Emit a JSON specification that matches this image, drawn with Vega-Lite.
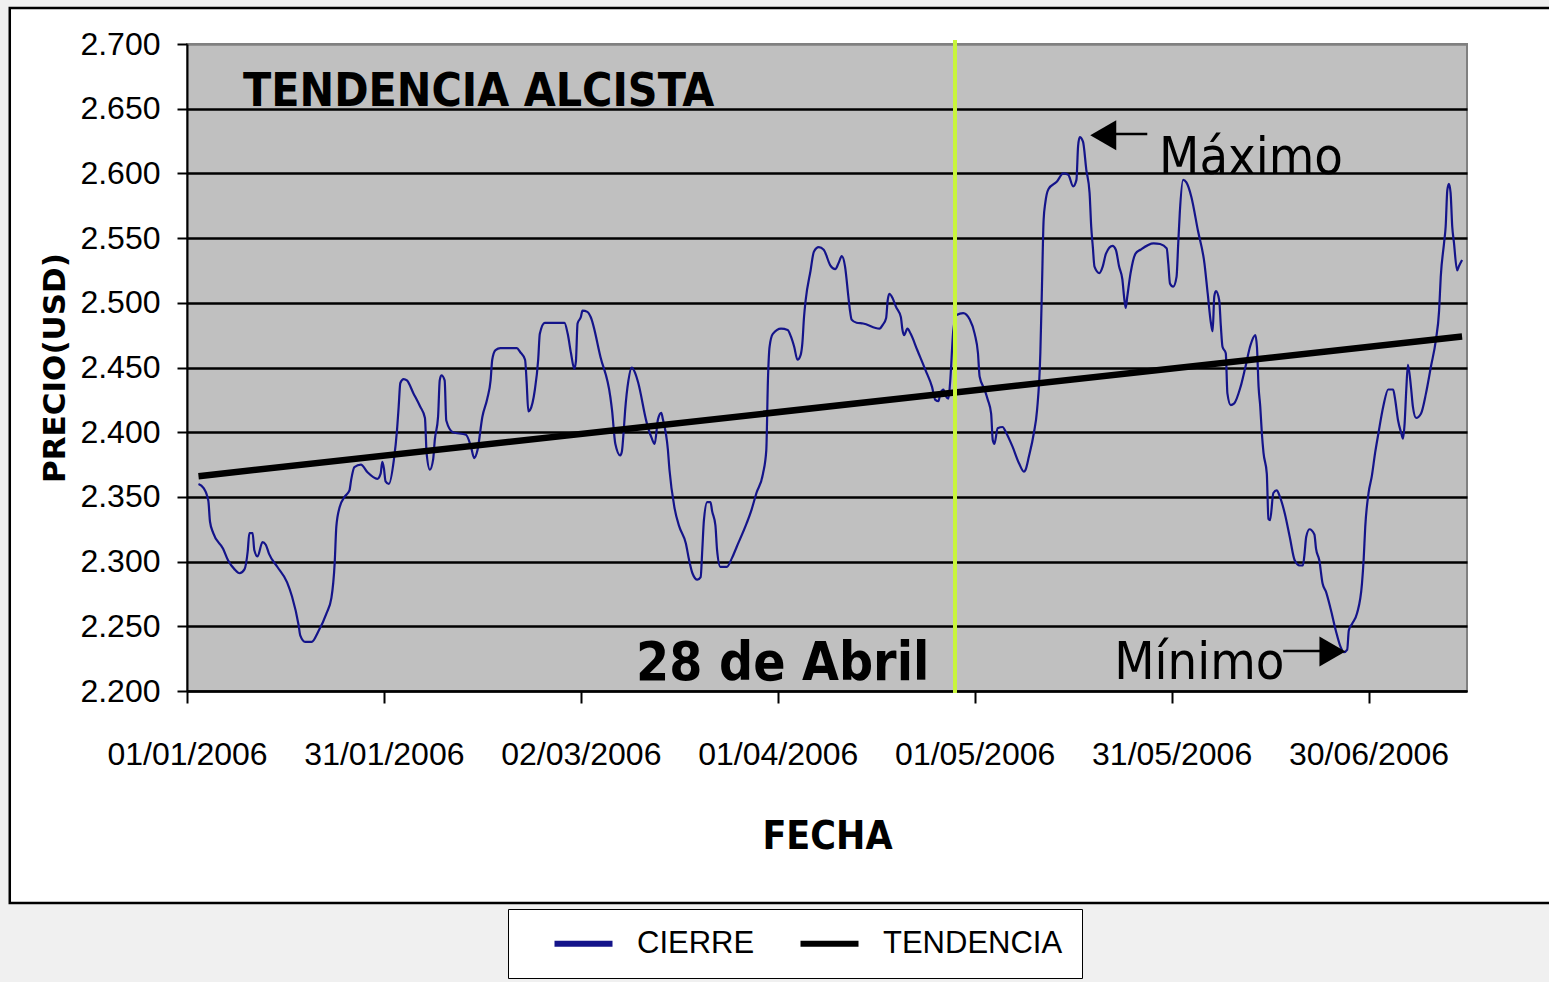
{
  "$schema": "https://vega.github.io/schema/vega-lite/v6.json",
  "width": 1280,
  "height": 647,
  "autosize": "none",
  "padding": {"left": 187, "top": 44, "right": 82, "bottom": 291},
  "background": "white",
  "config": {
    "view": {"fill": "#c0c0c0", "stroke": "#808080", "strokeWidth": 2},
    "axis": {
      "domainColor": "black", "domainWidth": 2,
      "tickColor": "black", "tickWidth": 2,
      "labelColor": "black", "titleColor": "black",
      "labelFont": "Liberation Sans", "labelFontSize": 32, "labelLimit": 400
    },
    "legend": {
      "orient": "none", "legendX": 321, "legendY": 865,
      "direction": "horizontal", "padding": 19,
      "fillColor": "white", "strokeColor": "black",
      "symbolType": "M-2.9,0H2.9", "symbolSize": 400, "symbolStrokeWidth": 6,
      "symbolOffset": 41, "labelOffset": 38, "columnPadding": 18,
      "labelFont": "Liberation Sans", "labelFontSize": 31, "labelColor": "black", "labelLimit": 400
    }
  },
  "datasets": {
    "cierre": [
      {"fecha":"2006-01-02T18:00Z","precio":2.360},{"fecha":"2006-01-03T12:00Z","precio":2.357},{"fecha":"2006-01-04T06:00Z","precio":2.347},{"fecha":"2006-01-04T12:00Z","precio":2.331},{"fecha":"2006-01-05T00:00Z","precio":2.322},{"fecha":"2006-01-06T12:00Z","precio":2.310},{"fecha":"2006-01-07T06:00Z","precio":2.301},{"fecha":"2006-01-08T06:00Z","precio":2.294},{"fecha":"2006-01-09T00:00Z","precio":2.291},{"fecha":"2006-01-09T18:00Z","precio":2.294},{"fecha":"2006-01-10T06:00Z","precio":2.308},{"fecha":"2006-01-10T12:00Z","precio":2.322},{"fecha":"2006-01-11T00:00Z","precio":2.322},{"fecha":"2006-01-11T06:00Z","precio":2.309},{"fecha":"2006-01-11T18:00Z","precio":2.304},{"fecha":"2006-01-12T12:00Z","precio":2.315},{"fecha":"2006-01-13T00:00Z","precio":2.313},{"fecha":"2006-01-13T12:00Z","precio":2.306},{"fecha":"2006-01-14T18:00Z","precio":2.296},{"fecha":"2006-01-16T06:00Z","precio":2.284},{"fecha":"2006-01-17T00:00Z","precio":2.273},{"fecha":"2006-01-18T00:00Z","precio":2.251},{"fecha":"2006-01-18T06:00Z","precio":2.243},{"fecha":"2006-01-19T00:00Z","precio":2.238},{"fecha":"2006-01-20T00:00Z","precio":2.238},{"fecha":"2006-01-21T00:00Z","precio":2.246},{"fecha":"2006-01-22T06:00Z","precio":2.260},{"fecha":"2006-01-23T00:00Z","precio":2.272},{"fecha":"2006-01-23T12:00Z","precio":2.299},{"fecha":"2006-01-23T18:00Z","precio":2.327},{"fecha":"2006-01-24T06:00Z","precio":2.342},{"fecha":"2006-01-25T00:00Z","precio":2.350},{"fecha":"2006-01-25T18:00Z","precio":2.355},{"fecha":"2006-01-26T00:00Z","precio":2.363},{"fecha":"2006-01-26T12:00Z","precio":2.373},{"fecha":"2006-01-27T12:00Z","precio":2.375},{"fecha":"2006-01-28T12:00Z","precio":2.369},{"fecha":"2006-01-30T00:00Z","precio":2.364},{"fecha":"2006-01-30T12:00Z","precio":2.368},{"fecha":"2006-01-30T18:00Z","precio":2.377},{"fecha":"2006-01-31T00:00Z","precio":2.372},{"fecha":"2006-01-31T06:00Z","precio":2.362},{"fecha":"2006-01-31T18:00Z","precio":2.360},
      {"fecha":"2006-02-01T12:00Z","precio":2.378},{"fecha":"2006-02-02T00:00Z","precio":2.402},{"fecha":"2006-02-02T06:00Z","precio":2.420},{"fecha":"2006-02-02T12:00Z","precio":2.438},{"fecha":"2006-02-03T00:00Z","precio":2.441},{"fecha":"2006-02-03T12:00Z","precio":2.440},{"fecha":"2006-02-04T12:00Z","precio":2.430},{"fecha":"2006-02-05T12:00Z","precio":2.420},{"fecha":"2006-02-06T06:00Z","precio":2.411},{"fecha":"2006-02-06T12:00Z","precio":2.384},{"fecha":"2006-02-07T00:00Z","precio":2.371},{"fecha":"2006-02-07T12:00Z","precio":2.379},{"fecha":"2006-02-07T18:00Z","precio":2.394},{"fecha":"2006-02-08T06:00Z","precio":2.412},{"fecha":"2006-02-08T12:00Z","precio":2.440},{"fecha":"2006-02-08T18:00Z","precio":2.444},{"fecha":"2006-02-09T06:00Z","precio":2.440},{"fecha":"2006-02-09T12:00Z","precio":2.409},{"fecha":"2006-02-10T12:00Z","precio":2.400},{"fecha":"2006-02-12T12:00Z","precio":2.398},{"fecha":"2006-02-13T06:00Z","precio":2.389},{"fecha":"2006-02-13T18:00Z","precio":2.380},{"fecha":"2006-02-14T06:00Z","precio":2.386},{"fecha":"2006-02-15T00:00Z","precio":2.412},{"fecha":"2006-02-15T18:00Z","precio":2.426},{"fecha":"2006-02-16T06:00Z","precio":2.440},{"fecha":"2006-02-16T12:00Z","precio":2.456},{"fecha":"2006-02-17T00:00Z","precio":2.4635},{"fecha":"2006-02-17T18:00Z","precio":2.465},{"fecha":"2006-02-20T06:00Z","precio":2.465},{"fecha":"2006-02-20T18:00Z","precio":2.462},{"fecha":"2006-02-21T12:00Z","precio":2.456},{"fecha":"2006-02-21T18:00Z","precio":2.438},{"fecha":"2006-02-22T00:00Z","precio":2.416},{"fecha":"2006-02-22T06:00Z","precio":2.417},{"fecha":"2006-02-23T00:00Z","precio":2.433},{"fecha":"2006-02-23T12:00Z","precio":2.456},{"fecha":"2006-02-23T18:00Z","precio":2.476},{"fecha":"2006-02-24T12:00Z","precio":2.4845},{"fecha":"2006-02-27T12:00Z","precio":2.4845},{"fecha":"2006-02-28T00:00Z","precio":2.476},{"fecha":"2006-02-28T12:00Z","precio":2.461},
      {"fecha":"2006-03-01T00:00Z","precio":2.449},{"fecha":"2006-03-01T06:00Z","precio":2.455},{"fecha":"2006-03-01T12:00Z","precio":2.484},{"fecha":"2006-03-02T00:00Z","precio":2.489},{"fecha":"2006-03-02T06:00Z","precio":2.494},{"fecha":"2006-03-03T00:00Z","precio":2.493},{"fecha":"2006-03-03T12:00Z","precio":2.489},{"fecha":"2006-03-05T00:00Z","precio":2.458},{"fecha":"2006-03-06T12:00Z","precio":2.427},{"fecha":"2006-03-06T18:00Z","precio":2.417},{"fecha":"2006-03-07T06:00Z","precio":2.391},{"fecha":"2006-03-08T00:00Z","precio":2.382},{"fecha":"2006-03-08T06:00Z","precio":2.385},{"fecha":"2006-03-08T12:00Z","precio":2.399},{"fecha":"2006-03-08T18:00Z","precio":2.417},{"fecha":"2006-03-09T06:00Z","precio":2.440},{"fecha":"2006-03-09T18:00Z","precio":2.450},{"fecha":"2006-03-10T06:00Z","precio":2.446},{"fecha":"2006-03-10T18:00Z","precio":2.438},{"fecha":"2006-03-12T00:00Z","precio":2.408},{"fecha":"2006-03-12T18:00Z","precio":2.396},{"fecha":"2006-03-13T06:00Z","precio":2.391},{"fecha":"2006-03-13T18:00Z","precio":2.410},{"fecha":"2006-03-14T06:00Z","precio":2.415},{"fecha":"2006-03-14T12:00Z","precio":2.410},{"fecha":"2006-03-15T06:00Z","precio":2.387},{"fecha":"2006-03-15T12:00Z","precio":2.371},{"fecha":"2006-03-16T06:00Z","precio":2.342},{"fecha":"2006-03-17T00:00Z","precio":2.327},{"fecha":"2006-03-18T00:00Z","precio":2.314},{"fecha":"2006-03-18T12:00Z","precio":2.301},{"fecha":"2006-03-19T00:00Z","precio":2.291},{"fecha":"2006-03-19T18:00Z","precio":2.286},{"fecha":"2006-03-20T06:00Z","precio":2.288},{"fecha":"2006-03-20T12:00Z","precio":2.309},{"fecha":"2006-03-20T18:00Z","precio":2.332},{"fecha":"2006-03-21T06:00Z","precio":2.346},{"fecha":"2006-03-21T18:00Z","precio":2.346},{"fecha":"2006-03-22T00:00Z","precio":2.339},{"fecha":"2006-03-22T12:00Z","precio":2.328},{"fecha":"2006-03-22T18:00Z","precio":2.309},{"fecha":"2006-03-23T06:00Z","precio":2.296},{"fecha":"2006-03-24T06:00Z","precio":2.296},{"fecha":"2006-03-25T00:00Z","precio":2.3025},{"fecha":"2006-03-25T18:00Z","precio":2.3115},{"fecha":"2006-03-27T06:00Z","precio":2.3295},{"fecha":"2006-03-28T00:00Z","precio":2.340},{"fecha":"2006-03-28T18:00Z","precio":2.353},{"fecha":"2006-03-29T18:00Z","precio":2.368},{"fecha":"2006-03-30T06:00Z","precio":2.386},{"fecha":"2006-03-30T12:00Z","precio":2.440},{"fecha":"2006-03-30T18:00Z","precio":2.466},{"fecha":"2006-03-31T06:00Z","precio":2.476},
      {"fecha":"2006-04-01T12:00Z","precio":2.480},{"fecha":"2006-04-02T12:00Z","precio":2.479},{"fecha":"2006-04-03T00:00Z","precio":2.474},{"fecha":"2006-04-03T12:00Z","precio":2.466},{"fecha":"2006-04-04T00:00Z","precio":2.456},{"fecha":"2006-04-04T12:00Z","precio":2.460},{"fecha":"2006-04-04T18:00Z","precio":2.469},{"fecha":"2006-04-05T00:00Z","precio":2.489},{"fecha":"2006-04-05T06:00Z","precio":2.502},{"fecha":"2006-04-06T00:00Z","precio":2.525},{"fecha":"2006-04-06T12:00Z","precio":2.5395},{"fecha":"2006-04-07T06:00Z","precio":2.543},{"fecha":"2006-04-08T00:00Z","precio":2.541},{"fecha":"2006-04-09T00:00Z","precio":2.529},{"fecha":"2006-04-09T18:00Z","precio":2.526},{"fecha":"2006-04-10T06:00Z","precio":2.5305},{"fecha":"2006-04-10T18:00Z","precio":2.536},{"fecha":"2006-04-11T06:00Z","precio":2.528},{"fecha":"2006-04-11T18:00Z","precio":2.505},{"fecha":"2006-04-12T00:00Z","precio":2.494},{"fecha":"2006-04-12T06:00Z","precio":2.487},{"fecha":"2006-04-13T00:00Z","precio":2.4846},{"fecha":"2006-04-14T00:00Z","precio":2.484},{"fecha":"2006-04-16T12:00Z","precio":2.480},{"fecha":"2006-04-17T00:00Z","precio":2.483},{"fecha":"2006-04-17T12:00Z","precio":2.488},{"fecha":"2006-04-17T18:00Z","precio":2.502},{"fecha":"2006-04-18T00:00Z","precio":2.507},{"fecha":"2006-04-18T12:00Z","precio":2.5035},{"fecha":"2006-04-19T00:00Z","precio":2.497},{"fecha":"2006-04-19T18:00Z","precio":2.489},{"fecha":"2006-04-20T00:00Z","precio":2.479},{"fecha":"2006-04-20T06:00Z","precio":2.475},{"fecha":"2006-04-20T18:00Z","precio":2.480},{"fecha":"2006-04-21T06:00Z","precio":2.476},{"fecha":"2006-04-22T06:00Z","precio":2.4635},{"fecha":"2006-04-23T12:00Z","precio":2.448},{"fecha":"2006-04-24T12:00Z","precio":2.435},{"fecha":"2006-04-25T00:00Z","precio":2.425},{"fecha":"2006-04-25T12:00Z","precio":2.424},{"fecha":"2006-04-25T18:00Z","precio":2.430},{"fecha":"2006-04-26T06:00Z","precio":2.433},{"fecha":"2006-04-26T12:00Z","precio":2.429},{"fecha":"2006-04-27T00:00Z","precio":2.426},{"fecha":"2006-04-27T06:00Z","precio":2.438},{"fecha":"2006-04-27T18:00Z","precio":2.479},{"fecha":"2006-04-28T06:00Z","precio":2.4906},{"fecha":"2006-04-29T06:00Z","precio":2.492},{"fecha":"2006-04-30T06:00Z","precio":2.487},
      {"fecha":"2006-05-01T00:00Z","precio":2.476},{"fecha":"2006-05-01T12:00Z","precio":2.461},{"fecha":"2006-05-01T18:00Z","precio":2.443},{"fecha":"2006-05-02T12:00Z","precio":2.433},{"fecha":"2006-05-03T00:00Z","precio":2.425},{"fecha":"2006-05-03T12:00Z","precio":2.4145},{"fecha":"2006-05-03T18:00Z","precio":2.394},{"fecha":"2006-05-04T00:00Z","precio":2.391},{"fecha":"2006-05-04T12:00Z","precio":2.403},{"fecha":"2006-05-05T06:00Z","precio":2.404},{"fecha":"2006-05-05T18:00Z","precio":2.400},{"fecha":"2006-05-06T18:00Z","precio":2.389},{"fecha":"2006-05-07T18:00Z","precio":2.376},{"fecha":"2006-05-08T12:00Z","precio":2.3695},{"fecha":"2006-05-08T18:00Z","precio":2.371},{"fecha":"2006-05-09T06:00Z","precio":2.381},{"fecha":"2006-05-10T00:00Z","precio":2.399},{"fecha":"2006-05-10T12:00Z","precio":2.417},{"fecha":"2006-05-11T00:00Z","precio":2.461},{"fecha":"2006-05-11T06:00Z","precio":2.5125},{"fecha":"2006-05-11T12:00Z","precio":2.564},{"fecha":"2006-05-11T18:00Z","precio":2.577},{"fecha":"2006-05-12T06:00Z","precio":2.588},{"fecha":"2006-05-13T12:00Z","precio":2.5935},{"fecha":"2006-05-14T12:00Z","precio":2.600},{"fecha":"2006-05-15T06:00Z","precio":2.599},{"fecha":"2006-05-16T00:00Z","precio":2.590},{"fecha":"2006-05-16T12:00Z","precio":2.595},{"fecha":"2006-05-16T18:00Z","precio":2.621},{"fecha":"2006-05-17T00:00Z","precio":2.628},{"fecha":"2006-05-17T12:00Z","precio":2.6245},{"fecha":"2006-05-18T00:00Z","precio":2.603},{"fecha":"2006-05-18T12:00Z","precio":2.585},{"fecha":"2006-05-18T18:00Z","precio":2.559},{"fecha":"2006-05-19T00:00Z","precio":2.543},{"fecha":"2006-05-19T06:00Z","precio":2.528},{"fecha":"2006-05-20T00:00Z","precio":2.523},{"fecha":"2006-05-20T12:00Z","precio":2.528},{"fecha":"2006-05-21T00:00Z","precio":2.538},{"fecha":"2006-05-22T00:00Z","precio":2.544},{"fecha":"2006-05-22T12:00Z","precio":2.541},{"fecha":"2006-05-23T00:00Z","precio":2.528},{"fecha":"2006-05-23T12:00Z","precio":2.518},{"fecha":"2006-05-23T18:00Z","precio":2.505},{"fecha":"2006-05-24T00:00Z","precio":2.496},{"fecha":"2006-05-24T06:00Z","precio":2.505},{"fecha":"2006-05-24T18:00Z","precio":2.523},{"fecha":"2006-05-25T12:00Z","precio":2.538},{"fecha":"2006-05-26T06:00Z","precio":2.541},{"fecha":"2006-05-28T06:00Z","precio":2.546},{"fecha":"2006-05-29T06:00Z","precio":2.5454},{"fecha":"2006-05-30T06:00Z","precio":2.542},{"fecha":"2006-05-30T12:00Z","precio":2.530},{"fecha":"2006-05-30T18:00Z","precio":2.515},{"fecha":"2006-05-31T06:00Z","precio":2.5125},{"fecha":"2006-05-31T18:00Z","precio":2.520},
      {"fecha":"2006-06-01T00:00Z","precio":2.545},{"fecha":"2006-06-01T06:00Z","precio":2.570},{"fecha":"2006-06-01T18:00Z","precio":2.595},{"fecha":"2006-06-02T06:00Z","precio":2.593},{"fecha":"2006-06-03T00:00Z","precio":2.582},{"fecha":"2006-06-04T00:00Z","precio":2.556},{"fecha":"2006-06-05T00:00Z","precio":2.5305},{"fecha":"2006-06-05T12:00Z","precio":2.507},{"fecha":"2006-06-06T00:00Z","precio":2.484},{"fecha":"2006-06-06T06:00Z","precio":2.478},{"fecha":"2006-06-06T12:00Z","precio":2.505},{"fecha":"2006-06-06T18:00Z","precio":2.509},{"fecha":"2006-06-07T06:00Z","precio":2.502},{"fecha":"2006-06-07T12:00Z","precio":2.482},{"fecha":"2006-06-07T18:00Z","precio":2.466},{"fecha":"2006-06-08T06:00Z","precio":2.461},{"fecha":"2006-06-08T12:00Z","precio":2.430},{"fecha":"2006-06-09T00:00Z","precio":2.421},{"fecha":"2006-06-09T12:00Z","precio":2.422},{"fecha":"2006-06-10T12:00Z","precio":2.435},{"fecha":"2006-06-11T06:00Z","precio":2.4506},{"fecha":"2006-06-12T00:00Z","precio":2.467},{"fecha":"2006-06-12T18:00Z","precio":2.475},{"fecha":"2006-06-13T00:00Z","precio":2.466},{"fecha":"2006-06-13T06:00Z","precio":2.435},{"fecha":"2006-06-13T12:00Z","precio":2.420},{"fecha":"2006-06-13T18:00Z","precio":2.399},{"fecha":"2006-06-14T00:00Z","precio":2.384},{"fecha":"2006-06-14T12:00Z","precio":2.368},{"fecha":"2006-06-14T18:00Z","precio":2.333},{"fecha":"2006-06-15T00:00Z","precio":2.332},{"fecha":"2006-06-15T12:00Z","precio":2.353},{"fecha":"2006-06-16T00:00Z","precio":2.355},{"fecha":"2006-06-16T12:00Z","precio":2.350},{"fecha":"2006-06-17T06:00Z","precio":2.337},{"fecha":"2006-06-18T00:00Z","precio":2.319},{"fecha":"2006-06-18T18:00Z","precio":2.301},{"fecha":"2006-06-19T12:00Z","precio":2.297},{"fecha":"2006-06-20T00:00Z","precio":2.297},{"fecha":"2006-06-20T06:00Z","precio":2.306},{"fecha":"2006-06-20T12:00Z","precio":2.319},{"fecha":"2006-06-21T00:00Z","precio":2.325},{"fecha":"2006-06-21T18:00Z","precio":2.321},{"fecha":"2006-06-22T00:00Z","precio":2.310},{"fecha":"2006-06-22T12:00Z","precio":2.301},{"fecha":"2006-06-23T00:00Z","precio":2.283},{"fecha":"2006-06-23T12:00Z","precio":2.277},{"fecha":"2006-06-24T06:00Z","precio":2.263},{"fecha":"2006-06-25T00:00Z","precio":2.247},{"fecha":"2006-06-25T18:00Z","precio":2.234},{"fecha":"2006-06-26T06:00Z","precio":2.230},{"fecha":"2006-06-26T18:00Z","precio":2.232},{"fecha":"2006-06-27T00:00Z","precio":2.247},{"fecha":"2006-06-27T12:00Z","precio":2.252},{"fecha":"2006-06-28T06:00Z","precio":2.260},{"fecha":"2006-06-29T00:00Z","precio":2.283},{"fecha":"2006-06-29T06:00Z","precio":2.301},{"fecha":"2006-06-29T12:00Z","precio":2.327},{"fecha":"2006-06-30T00:00Z","precio":2.353},{"fecha":"2006-06-30T12:00Z","precio":2.366},
      {"fecha":"2006-07-01T00:00Z","precio":2.384},{"fecha":"2006-07-01T12:00Z","precio":2.399},{"fecha":"2006-07-02T06:00Z","precio":2.420},{"fecha":"2006-07-03T00:00Z","precio":2.433},{"fecha":"2006-07-03T18:00Z","precio":2.433},{"fecha":"2006-07-04T00:00Z","precio":2.427},{"fecha":"2006-07-04T12:00Z","precio":2.409},{"fecha":"2006-07-05T00:00Z","precio":2.399},{"fecha":"2006-07-05T06:00Z","precio":2.395},{"fecha":"2006-07-05T12:00Z","precio":2.407},{"fecha":"2006-07-05T18:00Z","precio":2.433},{"fecha":"2006-07-06T00:00Z","precio":2.452},{"fecha":"2006-07-06T12:00Z","precio":2.433},{"fecha":"2006-07-06T18:00Z","precio":2.420},{"fecha":"2006-07-07T06:00Z","precio":2.411},{"fecha":"2006-07-08T00:00Z","precio":2.4145},{"fecha":"2006-07-08T18:00Z","precio":2.430},{"fecha":"2006-07-09T12:00Z","precio":2.4506},{"fecha":"2006-07-10T06:00Z","precio":2.471},{"fecha":"2006-07-10T18:00Z","precio":2.494},{"fecha":"2006-07-11T00:00Z","precio":2.520},{"fecha":"2006-07-11T12:00Z","precio":2.546},{"fecha":"2006-07-11T18:00Z","precio":2.559},{"fecha":"2006-07-12T00:00Z","precio":2.587},{"fecha":"2006-07-12T06:00Z","precio":2.592},{"fecha":"2006-07-12T12:00Z","precio":2.585},{"fecha":"2006-07-12T18:00Z","precio":2.559},{"fecha":"2006-07-13T00:00Z","precio":2.547},{"fecha":"2006-07-13T12:00Z","precio":2.525},{"fecha":"2006-07-13T18:00Z","precio":2.528},{"fecha":"2006-07-14T06:00Z","precio":2.533}
    ],
    "tendencia": [
      {"fecha":"2006-01-02T18:00Z","precio":2.366},
      {"fecha":"2006-07-14T06:00Z","precio":2.474}
    ]
  },
  "layer": [
    {
      "data": {"name": "cierre"},
      "mark": {"type": "line", "strokeWidth": 2.2, "interpolate": "monotone"},
      "encoding": {
        "x": {
          "field": "fecha", "type": "temporal",
          "scale": {"type": "utc", "domain": [{"year": 2006, "month": 1, "date": 1, "utc": true}, {"year": 2006, "month": 7, "date": 15, "utc": true}]},
          "axis": {
            "values": [
              {"year": 2006, "month": 1, "date": 1, "utc": true},
              {"year": 2006, "month": 1, "date": 31, "utc": true},
              {"year": 2006, "month": 3, "date": 2, "utc": true},
              {"year": 2006, "month": 4, "date": 1, "utc": true},
              {"year": 2006, "month": 5, "date": 1, "utc": true},
              {"year": 2006, "month": 5, "date": 31, "utc": true},
              {"year": 2006, "month": 6, "date": 30, "utc": true}
            ],
            "format": "%d/%m/%Y", "grid": false, "labelFlush": false, "labelOverlap": false,
            "tickSize": 12, "labelPadding": 36,
            "title": "FECHA", "titleFont": "DejaVu Sans Condensed, DejaVu Sans", "titleFontSize": 39, "titleFontWeight": "bold",
            "titleX": 640, "titleY": 157, "titleBaseline": "alphabetic", "titleAlign": "center", "titleAnchor": null
          }
        },
        "y": {
          "field": "precio", "type": "quantitative",
          "scale": {"domain": [2.2, 2.7], "zero": false, "nice": false},
          "axis": {
            "values": [2.2, 2.25, 2.3, 2.35, 2.4, 2.45, 2.5, 2.55, 2.6, 2.65, 2.7],
            "format": ".3f", "tickSize": 10, "labelPadding": 17,
            "grid": true, "gridWidth": 2.5,
            "gridColor": {"condition": {"test": "datum.value >= 2.699", "value": "#808080"}, "value": "black"},
            "title": "PRECIO(USD)", "titleFont": "DejaVu Sans", "titleFontSize": 31, "titleFontWeight": "bold",
            "titleX": -123, "titleY": 323.5, "titleAngle": 270, "titleBaseline": "alphabetic", "titleAlign": "center", "titleAnchor": null
          }
        },
        "color": {
          "datum": "CIERRE", "type": "nominal",
          "scale": {"domain": ["CIERRE", "TENDENCIA"], "range": ["#14148a", "#000000"]},
          "legend": {"title": null}
        }
      }
    },
    {
      "data": {"name": "tendencia"},
      "mark": {"type": "line", "strokeWidth": 6.5},
      "encoding": {
        "x": {"field": "fecha", "type": "temporal"},
        "y": {"field": "precio", "type": "quantitative"},
        "color": {"datum": "TENDENCIA", "type": "nominal"}
      }
    },
    {
      "data": {"values": [{}]},
      "mark": {"type": "rule", "color": "#c8f53c", "strokeWidth": 4},
      "encoding": {
        "x": {"datum": {"year": 2006, "month": 4, "date": 28, "utc": true}, "type": "temporal"},
        "y": {"datum": 2.7031, "type": "quantitative"},
        "y2": {"datum": 2.1985}
      }
    },
    {
      "data": {"values": [{}]},
      "mark": {"type": "text", "text": "TENDENCIA ALCISTA", "font": "DejaVu Sans Condensed, DejaVu Sans", "fontWeight": "bold", "fontSize": 46, "align": "left", "baseline": "alphabetic", "color": "black"},
      "encoding": {
        "x": {"datum": {"year": 2006, "month": 1, "date": 9, "hours": 13, "utc": true}, "type": "temporal"},
        "y": {"datum": 2.652, "type": "quantitative"}
      }
    },
    {
      "data": {"values": [{}]},
      "mark": {"type": "text", "text": "28 de Abril", "font": "DejaVu Sans Condensed, DejaVu Sans", "fontWeight": "bold", "fontSize": 53, "align": "right", "baseline": "alphabetic", "color": "black"},
      "encoding": {
        "x": {"datum": {"year": 2006, "month": 4, "date": 24, "hours": 2, "utc": true}, "type": "temporal"},
        "y": {"datum": 2.2085, "type": "quantitative"}
      }
    },
    {
      "data": {"values": [{}]},
      "mark": {"type": "text", "text": "Máximo", "font": "DejaVu Sans Condensed, DejaVu Sans", "fontSize": 52, "align": "left", "baseline": "alphabetic", "color": "black"},
      "encoding": {
        "x": {"datum": {"year": 2006, "month": 5, "date": 29, "hours": 2, "utc": true}, "type": "temporal"},
        "y": {"datum": 2.5995, "type": "quantitative"}
      }
    },
    {
      "data": {"values": [{}]},
      "mark": {"type": "text", "text": "Mínimo", "font": "DejaVu Sans Condensed, DejaVu Sans", "fontSize": 52, "align": "left", "baseline": "alphabetic", "color": "black"},
      "encoding": {
        "x": {"datum": {"year": 2006, "month": 5, "date": 22, "hours": 6, "utc": true}, "type": "temporal"},
        "y": {"datum": 2.2093, "type": "quantitative"}
      }
    },
    {
      "data": {"values": [{}]},
      "mark": {"type": "rule", "color": "black", "strokeWidth": 2.5},
      "encoding": {
        "x": {"datum": {"year": 2006, "month": 5, "date": 22, "utc": true}, "type": "temporal"},
        "x2": {"datum": {"year": 2006, "month": 5, "date": 27, "hours": 7, "utc": true}},
        "y": {"datum": 2.6305, "type": "quantitative"}
      }
    },
    {
      "data": {"values": [{}]},
      "mark": {"type": "point", "shape": "triangle-left", "size": 900, "filled": true, "color": "black", "opacity": 1},
      "encoding": {
        "x": {"datum": {"year": 2006, "month": 5, "date": 20, "hours": 14, "utc": true}, "type": "temporal"},
        "y": {"datum": 2.6295, "type": "quantitative"}
      }
    },
    {
      "data": {"values": [{}]},
      "mark": {"type": "rule", "color": "black", "strokeWidth": 2.5},
      "encoding": {
        "x": {"datum": {"year": 2006, "month": 6, "date": 17, "utc": true}, "type": "temporal"},
        "x2": {"datum": {"year": 2006, "month": 6, "date": 23, "utc": true}},
        "y": {"datum": 2.2309, "type": "quantitative"}
      }
    },
    {
      "data": {"values": [{}]},
      "mark": {"type": "point", "shape": "triangle-right", "size": 900, "filled": true, "color": "black", "opacity": 1},
      "encoding": {
        "x": {"datum": {"year": 2006, "month": 6, "date": 24, "hours": 12, "utc": true}, "type": "temporal"},
        "y": {"datum": 2.2305, "type": "quantitative"}
      }
    },
    {
      "data": {"values": [{}]},
      "mark": {"type": "rect", "color": "#f0f0f0", "clip": false},
      "encoding": {
        "x": {"datum": {"year": 2005, "month": 11, "date": 1, "utc": true}, "type": "temporal"},
        "x2": {"datum": {"year": 2006, "month": 9, "date": 1, "utc": true}},
        "y": {"datum": 2.0362, "type": "quantitative"},
        "y2": {"datum": 1.9}
      }
    },
    {
      "data": {"values": [{}]},
      "mark": {"type": "rect", "color": "#f0f0f0", "clip": false},
      "encoding": {
        "x": {"datum": {"year": 2005, "month": 11, "date": 1, "utc": true}, "type": "temporal"},
        "x2": {"datum": {"year": 2005, "month": 12, "date": 5, "utc": true}},
        "y": {"datum": 2.8, "type": "quantitative"},
        "y2": {"datum": 1.9}
      }
    },
    {
      "data": {"values": [{}]},
      "mark": {"type": "rect", "color": "#f0f0f0", "clip": false},
      "encoding": {
        "x": {"datum": {"year": 2005, "month": 11, "date": 1, "utc": true}, "type": "temporal"},
        "x2": {"datum": {"year": 2006, "month": 9, "date": 1, "utc": true}},
        "y": {"datum": 2.8, "type": "quantitative"},
        "y2": {"datum": 2.7278}
      }
    },
    {
      "data": {"values": [{}]},
      "mark": {"type": "rect", "fill": null, "fillOpacity": 0, "stroke": "black", "strokeWidth": 2.5, "clip": false},
      "encoding": {
        "x": {"datum": {"year": 2005, "month": 12, "date": 5, "utc": true}, "type": "temporal"},
        "x2": {"datum": {"year": 2006, "month": 9, "date": 1, "utc": true}},
        "y": {"datum": 2.7278, "type": "quantitative"},
        "y2": {"datum": 2.0362}
      }
    }
  ]
}
